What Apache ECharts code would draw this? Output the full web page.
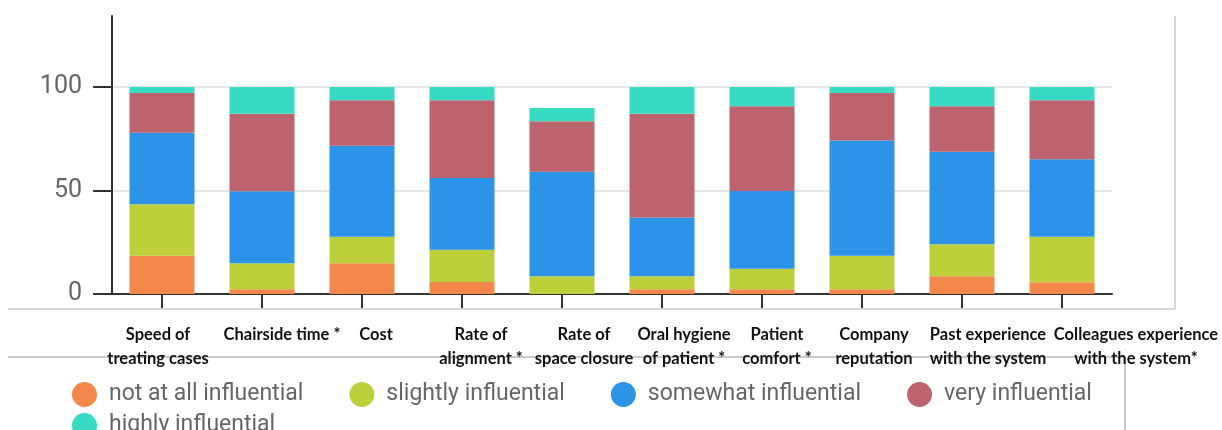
<!DOCTYPE html>
<html>
<head>
<meta charset="utf-8">
<script src="https://cdn.jsdelivr.net/npm/echarts@6/dist/echarts.min.js"></script>
<style>
html,body{margin:0;padding:0;background:#fff;}
#chart{width:1222px;height:430px;}
</style>
</head>
<body>
<div id="chart"></div>
<script>
var categories = [
  'Speed of\ntreating cases',
  'Chairside time *',
  'Cost',
  'Rate of\nalignment *',
  'Rate of\nspace closure',
  'Oral hygiene\nof patient *',
  'Patient\ncomfort *',
  'Company\nreputation',
  'Past experience\nwith the system',
  'Colleagues experience\nwith the system*'
];
var seriesNames = ['not at all influential', 'slightly influential', 'somewhat influential', 'very influential', 'highly influential'];
var notAtAll = [18.5, 2.3, 14.8, 5.8, 0, 2.3, 2.3, 2.3, 8.6, 5.7];
var slightly = [24.8, 12.5, 12.9, 15.6, 8.6, 6.3, 9.9, 16.2, 15.4, 22.0];
var somewhat = [34.6, 34.8, 43.9, 34.6, 50.4, 28.3, 37.6, 55.7, 44.7, 37.4];
var very = [19.2, 37.5, 22.0, 37.6, 24.5, 50.2, 40.9, 22.9, 22.0, 28.5];
var highly = [2.9, 12.9, 6.4, 6.4, 6.3, 12.9, 9.3, 2.9, 9.3, 6.4];
var yTicks = [0, 50, 100];
var yMin = 0, yMax = 100, yStep = 50;

// style: horizontal nudge of each category label (px)
var labelShift = [-4, 20, 14, 19, 22, 22, 15, 12, 26, 74];
var colors = ['#F4874B', '#BDD03C', '#2B93E8', '#BC636D', '#38DAC2'];

var rich = {};
labelShift.forEach(function (d, i) {
  rich['s' + i] = {
    fontFamily: 'Lato', fontWeight: 'bold', fontSize: 16.5, lineHeight: 24, color: '#111',
    padding: d >= 0 ? [0, 0, 0, 2 * d] : [0, -2 * d, 0, 0]
  };
});

var values = [notAtAll, slightly, somewhat, very, highly];
var series = values.map(function (arr, k) {
  return {
    name: seriesNames[k], type: 'bar', stack: 'total', barWidth: 65,
    xAxisIndex: 0, yAxisIndex: 0,
    data: arr, itemStyle: { color: colors[k] },
    emphasis: { disabled: true }
  };
});

function dark() { return { color: '#333', width: 2 }; }
function legendText() { return { fontFamily: 'Roboto', fontSize: 23, color: '#666', lineHeight: 25, padding: [0, 0, 0, 7] }; }

var frameLines = [
  { type: 'line', z: -1, shape: { x1: 8, y1: 309, x2: 1175, y2: 309 }, style: { stroke: '#c8c8c8', lineWidth: 1.5 } },
  { type: 'line', z: -1, shape: { x1: 1175, y1: 16, x2: 1175, y2: 309 }, style: { stroke: '#c8c8c8', lineWidth: 1.5 } },
  { type: 'line', z: -1, shape: { x1: 8, y1: 357, x2: 1125, y2: 357 }, style: { stroke: '#b8b8b8', lineWidth: 1.5 } },
  { type: 'line', z: -1, shape: { x1: 1125, y1: 357, x2: 1125, y2: 430 }, style: { stroke: '#b8b8b8', lineWidth: 1.5 } }
];

var chart = echarts.init(document.getElementById('chart'), null, { renderer: 'canvas' });
chart.setOption({
  animation: false,
  backgroundColor: '#fff',
  color: colors,
  grid: [
    { left: 112, right: 110, top: 87, bottom: 136 },
    { left: 112, right: 110, top: 16, height: 71 }
  ],
  xAxis: [
    {
      type: 'category', data: categories, gridIndex: 0,
      axisLine: { show: true, lineStyle: dark() },
      axisTick: { show: true, alignWithLabel: true, length: 14, lineStyle: dark() },
      axisLabel: {
        interval: 0, margin: 29, lineHeight: 24,
        fontFamily: 'Lato', fontWeight: 'bold', fontSize: 16.5, color: '#111',
        formatter: function (v, i) { return '{s' + i + '|' + v + '}'; },
        rich: rich
      },
      splitLine: { show: false }
    },
    { type: 'category', data: categories, gridIndex: 1, show: false }
  ],
  yAxis: [
    {
      type: 'value', min: yMin, max: yMax, interval: yStep, gridIndex: 0, position: 'left',
      axisLine: { show: true, lineStyle: dark() },
      axisTick: { show: true, length: 19, lineStyle: dark() },
      axisLabel: { margin: 30, fontFamily: 'Roboto', fontSize: 25, color: '#666' },
      splitLine: { show: true, lineStyle: { color: '#e6e6e6', width: 2 } }
    },
    {
      type: 'value', min: 0, max: 1, gridIndex: 1, position: 'left',
      axisLine: { show: true, lineStyle: dark() },
      axisTick: { show: false }, axisLabel: { show: false }, splitLine: { show: false }
    }
  ],
  legend: [
    {
      data: seriesNames.slice(0, 4), left: 67, top: 377, orient: 'horizontal',
      icon: 'circle', itemWidth: 25, itemHeight: 25, itemGap: 46,
      textStyle: legendText(), selectedMode: false
    },
    {
      data: seriesNames.slice(4), left: 67, top: 408, orient: 'horizontal',
      icon: 'circle', itemWidth: 25, itemHeight: 25, itemGap: 46,
      textStyle: legendText(), selectedMode: false
    }
  ],
  graphic: frameLines,
  series: series
});

// y-axis ticks placed through the library's own scales
var tickLines = [];
var c0 = chart.convertToPixel({ xAxisIndex: 0 }, categories[0]);
var c1 = chart.convertToPixel({ xAxisIndex: 0 }, categories[1]);
if (typeof c0 !== 'number') c0 = chart.convertToPixel({ xAxisIndex: 0 }, 0);
if (typeof c1 !== 'number') c1 = chart.convertToPixel({ xAxisIndex: 0 }, 1);
var axisX = c0 - (c1 - c0) / 2;
yTicks.forEach(function (v) {
  var y = chart.convertToPixel({ yAxisIndex: 0 }, v);
  if (typeof y === 'number' && isFinite(y) && isFinite(axisX)) {
    tickLines.push({
      type: 'line', z: 10,
      shape: { x1: axisX - 19, y1: Math.round(y), x2: axisX, y2: Math.round(y) },
      style: { stroke: '#333', lineWidth: 2 }
    });
  }
});
if (tickLines.length) {
  chart.setOption({ graphic: frameLines.concat(tickLines) });
}
</script>
</body>
</html>
